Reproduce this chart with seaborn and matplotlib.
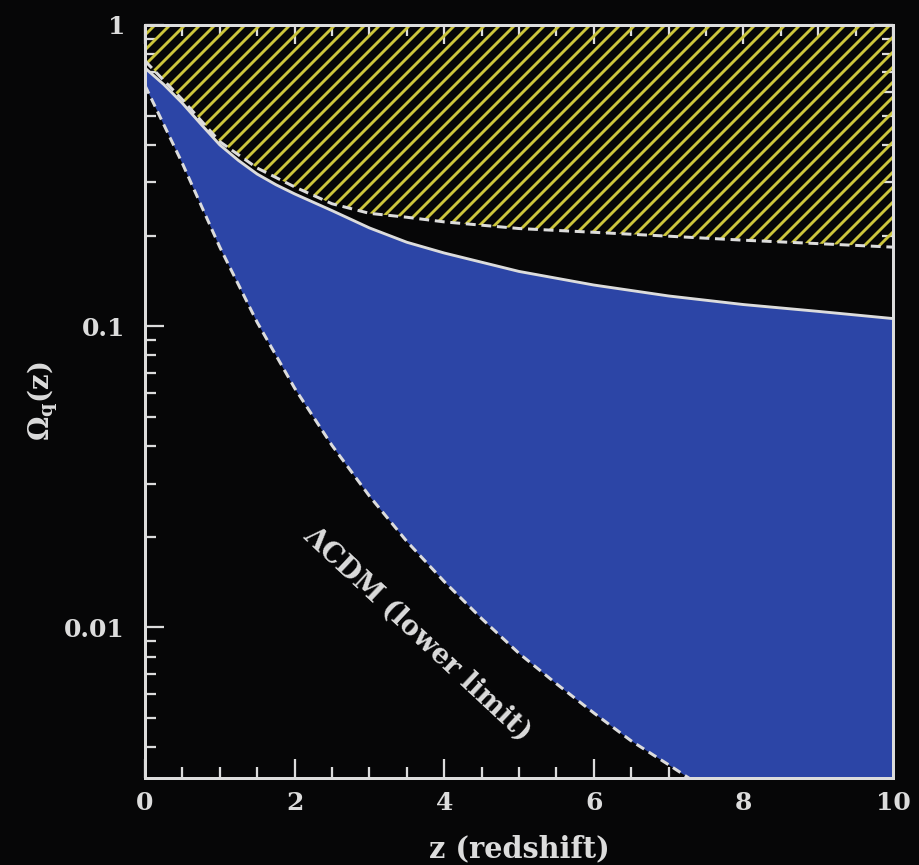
import numpy as np
import pandas as pd
import matplotlib
matplotlib.use("Agg")
import matplotlib.pyplot as plt
from matplotlib.ticker import FixedLocator, FixedFormatter, MultipleLocator, LogLocator, NullFormatter
import seaborn as sns

# Redshift grid and the dark-energy density bounds
z_upper = [0.0, 0.25, 0.5, 0.75, 1.0, 1.25, 1.5, 1.75, 2.0, 2.5, 3.0, 3.5, 4.0, 5.0, 6.0, 7.0, 8.0, 9.0, 10.0]
omega_upper = [0.72, 0.635, 0.55, 0.468, 0.40, 0.355, 0.32, 0.295, 0.275, 0.242, 0.212, 0.190, 0.175,
               0.152, 0.137, 0.126, 0.118, 0.112, 0.106]

z_excluded = [0.0, 0.5, 1.0, 1.5, 2.0, 2.5, 3.0, 3.5, 4.0, 5.0, 6.0, 7.0, 8.0, 9.0, 10.0]
omega_excluded = [0.76, 0.565, 0.41, 0.335, 0.29, 0.255, 0.237, 0.230, 0.222, 0.211, 0.205, 0.199, 0.193, 0.188, 0.183]

z_lcdm = [0.0, 0.5, 1.0, 1.5, 2.0, 2.5, 3.0, 3.5, 4.0, 4.5, 5.0, 5.5, 6.0, 6.5, 7.0, 7.5]
omega_lcdm = [0.63, 0.347, 0.183, 0.103, 0.0623, 0.0402, 0.0273, 0.0193, 0.0142, 0.0107,
              0.0082, 0.0065, 0.0052, 0.0042, 0.0035, 0.0029]

y_ticks = [0.01, 0.1, 1]
y_tick_labels = ["0.01", "0.1", "1"]
Y_MIN, Y_MAX = 10 ** -2.5, 1.0
X_MIN, X_MAX = 0, 10

DPI = 90
BG = "#060607"
FG = "#dcdcdc"
BLUE = "#2c45a6"
HATCH = "#cdc63c"

sns.set_theme(style="ticks")
plt.rcParams.update({
    "font.family": ["DejaVu Serif"],
    "font.weight": "bold",
    "axes.labelweight": "bold",
    "mathtext.fontset": "dejavuserif",
    "hatch.linewidth": 2.3,
    "figure.facecolor": BG,
    "axes.facecolor": BG,
    "savefig.facecolor": BG,
})

fig = plt.figure(figsize=(920 / DPI, 865 / DPI), dpi=DPI)
ax = fig.add_axes([145 / 920, 1 - 778 / 865, (893 - 145) / 920, (778 - 25) / 865])
ax.set_yscale("log")

upper = pd.DataFrame({"z": z_upper, "omega": omega_upper})
excl = pd.DataFrame({"z": z_excluded, "omega": omega_excluded})
lcdm = pd.DataFrame({"z": z_lcdm, "omega": omega_lcdm})

# allowed band between the LCDM lower limit and the upper bound
band_x = np.concatenate([upper["z"], [X_MAX], lcdm["z"][::-1]])
band_y = np.concatenate([upper["omega"], [Y_MIN], lcdm["omega"][::-1]])
ax.fill(band_x, band_y, color=BLUE, lw=0, zorder=1)

# excluded region (hatched)
ax.fill_between(excl["z"], excl["omega"], Y_MAX, facecolor="none",
                edgecolor=HATCH, hatch="//", linewidth=0, zorder=1)

sns.lineplot(data=upper, x="z", y="omega", ax=ax, color=FG, lw=2.3, zorder=3)
sns.lineplot(data=excl, x="z", y="omega", ax=ax, color=FG, lw=2.4,
             linestyle=(0, (3.3, 1.9)), zorder=3)
sns.lineplot(data=lcdm, x="z", y="omega", ax=ax, color=FG, lw=2.4,
             linestyle=(0, (3.0, 1.8)), zorder=3)

ax.text(3.64, 0.0095, "ΛCDM (lower limit)", rotation=-43, rotation_mode="anchor",
        ha="center", va="center", color=FG, fontsize=22, zorder=4)

ax.set_xlim(X_MIN, X_MAX)
ax.set_ylim(Y_MIN, Y_MAX)

ax.xaxis.set_major_locator(MultipleLocator(2))
ax.xaxis.set_minor_locator(MultipleLocator(0.5))
ax.yaxis.set_major_locator(FixedLocator(y_ticks))
ax.yaxis.set_major_formatter(FixedFormatter(y_tick_labels))
ax.yaxis.set_minor_locator(LogLocator(base=10, subs=np.arange(2, 10)))
ax.yaxis.set_minor_formatter(NullFormatter())

ax.tick_params(which="both", direction="in", top=True, right=True, colors=FG,
               labelcolor=FG, labelsize=20)
ax.tick_params(which="major", length=15, width=1.8)
ax.tick_params(axis="x", which="major", pad=10)
ax.tick_params(axis="y", which="major", pad=16)
ax.tick_params(which="minor", length=8.5, width=1.8)

for sp in ax.spines.values():
    sp.set_color(FG)
    sp.set_linewidth(2.4)
    sp.set_zorder(5)

ax.set_xlabel("z (redshift)", color=FG, fontsize=23, labelpad=16)
ax.set_ylabel(r"$\mathbf{\Omega_q(z)}$", color=FG, fontsize=22, labelpad=3)

fig.savefig("out.png", dpi=DPI, facecolor=BG)
